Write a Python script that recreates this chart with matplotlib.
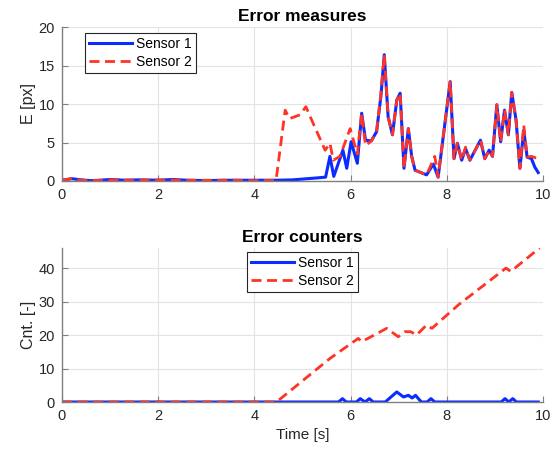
import matplotlib
matplotlib.use("Agg")
import matplotlib.pyplot as plt

# ---------------- data ----------------
# Error measures, sensor 1
t_e1 = [0.0, 0.2, 0.4, 0.6, 0.8, 1.0, 1.3, 1.6, 2.0, 2.3, 2.6, 3.0, 3.4, 3.8, 4.2, 4.5, 4.8,
        5.1, 5.3, 5.48, 5.57, 5.65, 5.84, 5.92, 6.01, 6.14, 6.23, 6.31, 6.43, 6.54, 6.63,
        6.70, 6.78, 6.87, 6.96, 7.03, 7.11, 7.20, 7.27, 7.34, 7.58, 7.72, 7.82, 8.07, 8.15,
        8.22, 8.31, 8.39, 8.48, 8.70, 8.79, 8.88, 8.95, 9.04, 9.12, 9.20, 9.28, 9.35, 9.44,
        9.52, 9.60, 9.67, 9.76, 9.83, 9.90]
e1 = [0.1, 0.3, 0.15, 0.05, 0.1, 0.2, 0.1, 0.15, 0.1, 0.2, 0.1, 0.05, 0.1, 0.1, 0.1, 0.1, 0.15,
      0.3, 0.4, 0.5, 3.2, 0.6, 4.0, 1.65, 5.1, 2.3, 8.8, 5.3, 5.2, 6.4, 11.0,
      16.4, 8.35, 6.0, 10.5, 11.4, 1.65, 6.8, 3.2, 1.4, 0.8, 2.2, 0.5, 12.9, 2.9,
      4.9, 2.7, 4.2, 2.7, 5.3, 2.9, 4.0, 3.2, 9.9, 5.1, 9.2, 6.0, 11.5, 7.9,
      1.65, 6.6, 3.1, 2.9, 1.8, 1.1]

# Error measures, sensor 2
t_e2 = [0.0, 0.2, 0.4, 0.6, 1.0, 1.6, 2.0, 2.6, 3.0, 3.6, 4.0, 4.45, 4.64, 4.73, 4.95, 5.07,
        5.22, 5.47, 5.57, 5.64, 5.78, 5.99, 6.14, 6.23, 6.31, 6.43, 6.54, 6.63, 6.70, 6.78,
        6.87, 6.96, 7.03, 7.11, 7.20, 7.27, 7.34, 7.58, 7.75, 7.82, 8.07, 8.15, 8.22, 8.31,
        8.39, 8.48, 8.70, 8.79, 8.88, 8.95, 9.04, 9.12, 9.20, 9.28, 9.35, 9.44, 9.52, 9.60,
        9.67, 9.76, 9.85, 9.93]
e2 = [0.1, 0.3, 0.1, 0.05, 0.15, 0.1, 0.15, 0.1, 0.1, 0.1, 0.05, 0.1, 9.2, 8.1, 8.6, 9.65,
      7.5, 4.0, 4.9, 2.7, 3.2, 6.8, 3.5, 8.8, 4.6, 5.2, 6.4, 11.4, 16.4, 8.35,
      6.0, 10.5, 11.4, 1.65, 6.8, 3.2, 1.4, 0.8, 3.2, 0.5, 12.9, 2.9, 4.9, 2.7,
      4.4, 2.7, 5.3, 2.9, 4.0, 3.2, 9.9, 5.1, 9.2, 6.0, 11.5, 7.9, 1.65, 7.2,
      3.1, 3.2, 3.0, 3.0]

# Error counters, sensor 1
t_c1 = [0.0, 5.75, 5.83, 5.91, 6.12, 6.20, 6.30, 6.39, 6.47, 6.72, 6.96, 7.10, 7.20, 7.28,
        7.35, 7.47, 7.59, 7.67, 7.75, 9.13, 9.21, 9.29, 9.37, 9.45, 9.90]
c1 = [0, 0, 1, 0, 0, 1, 0, 1, 0, 0, 3, 1.5, 2, 1.2, 2, 0, 0, 1, 0, 0, 1, 0, 1, 0, 0]

# Error counters, sensor 2
t_c2 = [0.0, 4.46, 5.57, 6.16, 6.23, 6.75, 6.99, 7.13, 7.25, 7.37, 7.58, 7.69, 8.24, 9.23,
        9.33, 9.93]
c2 = [0, 0, 13, 19, 18, 22, 19.5, 21, 21, 20, 23, 22, 29, 40, 39, 46]

x_ticks = [0, 2, 4, 6, 8, 10]
y_ticks_top = [0, 5, 10, 15, 20]
y_ticks_bot = [0, 10, 20, 30, 40]
series_names = ["Sensor 1", "Sensor 2"]

# ---------------- style ----------------
plt.rcParams['font.family'] = ['Liberation Sans', 'DejaVu Sans']
BLUE = '#0a2cff'
RED = '#ff3326'
TXT = '#262626'
AX = '#808080'
GRID = '#e3e3e3'

fig = plt.figure(figsize=(5.58, 4.53), dpi=100)
ax1 = fig.add_axes([62 / 558, 1 - 181 / 453, 481 / 558, 154 / 453])
ax2 = fig.add_axes([62 / 558, 1 - 402 / 453, 481 / 558, 154 / 453])


def style(ax, yt, ylim):
    ax.set_xlim(0, 10)
    ax.set_ylim(*ylim)
    ax.set_xticks(x_ticks)
    ax.set_yticks(yt)
    ax.grid(True, color=GRID, linewidth=0.8)
    ax.set_axisbelow(True)
    for s in ['top', 'right']:
        ax.spines[s].set_visible(False)
    for s in ['left', 'bottom']:
        ax.spines[s].set_color(AX)
        ax.spines[s].set_linewidth(1.0)
    ax.tick_params(direction='in', length=4, width=0.8, color=AX,
                   labelsize=10.5, labelcolor=TXT, pad=5)


def legend(ax, handles, loc, anchor):
    lg = ax.legend(handles, series_names, loc=loc, bbox_to_anchor=anchor,
                   fontsize=10, frameon=True, fancybox=False, framealpha=1,
                   edgecolor=TXT, handlelength=3.1, borderpad=0.3, labelspacing=0.28,
                   handletextpad=0.3, borderaxespad=0)
    lg.get_frame().set_linewidth(0.8)
    return lg


l1, = ax1.plot(t_e1, e1, color=BLUE, lw=2.2, solid_joinstyle='round')
l2, = ax1.plot(t_e2, e2, color=RED, lw=2.0, dashes=(3.6, 2.0))
style(ax1, y_ticks_top, (0, 20))
ax1.set_title("Error measures", fontsize=12.5, fontweight='bold', color='black', pad=4)
ax1.set_ylabel("E [px]", fontsize=11.5, color=TXT, labelpad=2)
legend(ax1, [l1, l2], 'upper left', (23 / 481, 148 / 154))

m1, = ax2.plot(t_c1, c1, color=BLUE, lw=2.2)
m2, = ax2.plot(t_c2, c2, color=RED, lw=2.0, dashes=(3.6, 2.0))
style(ax2, y_ticks_bot, (0, 46))
ax2.set_title("Error counters", fontsize=12.5, fontweight='bold', color='black', pad=4)
ax2.set_ylabel("Cnt. [-]", fontsize=11.5, color=TXT, labelpad=2)
ax2.set_xlabel("Time [s]", fontsize=11, color=TXT, labelpad=4)
legend(ax2, [m1, m2], 'upper center', (0.5, 150 / 154))

fig.savefig("out.png", dpi=100)
